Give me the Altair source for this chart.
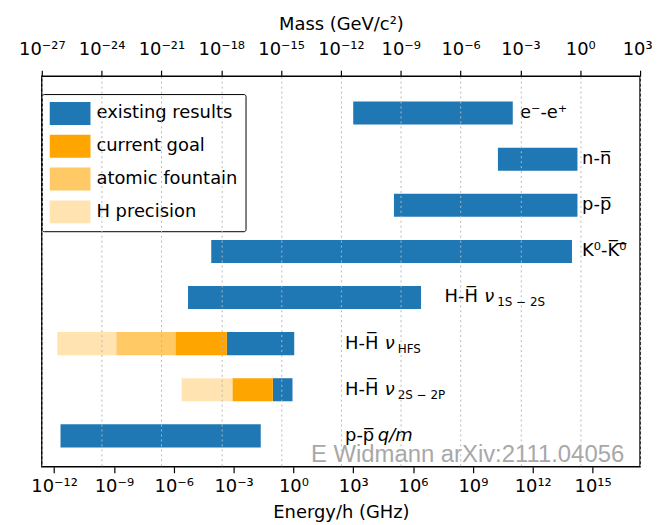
import altair as alt
import pandas as pd

# ---------------- data ----------------
categories = ["existing results", "current goal", "atomic fountain", "H precision"]
colors = ["#1f77b4", "#ffa500", "#ffc966", "#ffe4b2"]

# bar segments (row index 0 = top)
seg_row = [0, 1, 2, 3, 4, 5, 6, 7, 5, 6, 5, 5, 6]
seg_cat = ["existing results"] * 8 + ["current goal"] * 2 + ["atomic fountain"] + ["H precision"] * 2
seg_start = [1.0e3, 1.8e10, 1.1e5, 7.6e-5, 5.2e-6, 4.6e-4, 9.3e-2, 2.1e-12,
             1.2e-6, 8.7e-4, 1.3e-9, 1.45e-12, 2.5e-6]
seg_end = [1.0e11, 1.75e14, 1.75e14, 9.3e13, 2.5e6, 1.1e0, 0.9, 2.3e-2,
           4.6e-4, 9.3e-2, 1.2e-6, 1.3e-9, 8.7e-4]

# row labels
label_row = [0, 1, 2, 3, 4, 5, 6, 7]
label_text = ["e\u207b-e\u207a", "n-n\u0305", "p-p\u0305", "K\u2070-K\u0305\u2070\u0305",
              "H-H\u0305", "H-H\u0305", "H-H\u0305", "p-p\u0305"]
label_x = [2.3e11, 3.0e14, 3.0e14, 3.0e14, 3.8e7, 3.9e2, 3.9e2, 3.9e2]

nu_row = [4, 5, 6]
nu_text = ["\u03bd", "\u03bd", "\u03bd"]
sub_text = ["1S \u2212 2S", "HFS", "2S \u2212 2P"]
qm_row = [7]
qm_text = ["q/m"]

energy_ticks = [1e-12, 1e-9, 1e-6, 1e-3, 1e0, 1e3, 1e6, 1e9, 1e12, 1e15]
mass_ticks = [1e-27, 1e-24, 1e-21, 1e-18, 1e-15, 1e-12, 1e-9, 1e-6, 1e-3, 1e0, 1e3]
mass_domain = [1e-27, 1e3]
energy_domain = [2.418e-13, 2.418e17]  # same span, 1 GeV = 2.418e14 GHz

watermark = ["E Widmann arXiv:2111.04056"]

# ---------------- frames ----------------
bars_df = pd.DataFrame({"row": seg_row, "cat": seg_cat, "start": seg_start, "end": seg_end})
lab_df = pd.DataFrame({"row": label_row, "text": label_text, "x": label_x})
nu_df = pd.DataFrame({"row": nu_row, "text": nu_text, "x": [label_x[r] for r in nu_row]})
sub_df = pd.DataFrame({"row": nu_row, "text": sub_text, "x": [label_x[r] for r in nu_row]})
qm_df = pd.DataFrame({"row": qm_row, "text": qm_text, "x": [label_x[r] for r in qm_row]})
mass_df = pd.DataFrame({"mass": mass_domain})
wm_df = pd.DataFrame({"t": watermark})

SUP = {"0": "\u2070", "1": "\u00b9", "2": "\u00b2", "3": "\u00b3", "4": "\u2074",
       "5": "\u2075", "6": "\u2076", "7": "\u2077", "8": "\u2078", "9": "\u2079"}
expr = "toString(round(log(datum.value)/LN10))"
for d, s in SUP.items():
    expr = f"replace({expr}, regexp('{d}','g'), '{s}')"
label_expr = f"'10' + replace({expr}, '-', '\u207b')"

FS = 18
xscale = alt.Scale(type="log", domain=energy_domain, nice=False)
yscale = alt.Scale(domain=[-0.8, 7.67], reverse=True, nice=False, zero=False)

energy_axis = alt.Axis(values=energy_ticks, labelExpr=label_expr, title="Energy/h (GHz)",
                       grid=False, domain=False, tickColor="black", tickSize=6, tickWidth=1.2,
                       labelFontSize=FS, titleFontSize=FS, labelColor="black", titleColor="black",
                       titleFontWeight="normal", labelPadding=5, titlePadding=8, labelFlush=False)

bars = alt.Chart(bars_df).transform_calculate(
    y0="datum.row - 0.25", y1="datum.row + 0.25"
).mark_rect().encode(
    x=alt.X("start:Q", scale=xscale, axis=energy_axis),
    x2="end:Q",
    y=alt.Y("y0:Q", scale=yscale, axis=None),
    y2="y1:Q",
    color=alt.Color("cat:N", scale=alt.Scale(domain=categories, range=colors),
                    legend=alt.Legend(orient="none", legendX=0, legendY=18, title=None,
                                      symbolType="M-1,-1H2.565V1H-1Z", symbolSize=529,
                                      symbolStrokeWidth=0, symbolOpacity=1,
                                      labelFontSize=FS, labelColor="black", labelOffset=24,
                                      strokeColor="black", fillColor="white", padding=8,
                                      rowPadding=10, cornerRadius=2)),
)

def text_layer(df, **kw):
    return alt.Chart(df).mark_text(align="left", baseline="middle", color="black", **kw).encode(
        x=alt.X("x:Q", scale=xscale, axis=energy_axis),
        y=alt.Y("row:Q", scale=yscale, axis=None),
        text="text:N",
    )

labels = text_layer(lab_df, fontSize=FS)
nus = text_layer(nu_df, fontSize=FS, fontStyle="italic", dx=40)
subs = text_layer(sub_df, fontSize=12, dx=53, dy=5)
qms = text_layer(qm_df, fontSize=FS, fontStyle="italic", dx=33)

wm = alt.Chart(wm_df).mark_text(align="right", baseline="alphabetic", fontSize=24,
                                font="Liberation Sans", color="#a8a8a8").encode(
    x=alt.value(586), y=alt.value(388), text="t:N")

mass = alt.Chart(mass_df).mark_point(opacity=0).encode(
    x=alt.X("mass:Q", scale=alt.Scale(type="log", domain=mass_domain, nice=False),
            axis=alt.Axis(orient="top", values=mass_ticks, labelExpr=label_expr,
                          title="Mass (GeV/c\u00b2)", grid=True, gridColor="#b8b8b8",
                          gridDash=[2, 3], gridWidth=1, domain=False, tickColor="black",
                          tickSize=6, tickWidth=1.2, labelFontSize=FS, titleFontSize=FS,
                          labelColor="black", titleColor="black", titleFontWeight="normal",
                          labelPadding=12, titlePadding=7, labelFlush=False, zindex=1,
                          labelOffset={"condition": {"test": "datum.value > 100", "value": -3},
                                       "value": 0})),
)

main = alt.layer(bars, labels, nus, subs, qms)

chart = alt.layer(main, mass, wm).resolve_scale(
    x="independent"
).properties(
    width=602, height=393,
    autosize=alt.AutoSizeParams(type="none"),
    padding={"left": 34, "top": 67, "right": 12, "bottom": 56},
    background="white",
).configure(font="DejaVu Sans").configure_view(stroke="black", strokeWidth=1.5)

chart.save("out.html", embed_options={"renderer": "svg", "actions": False})
